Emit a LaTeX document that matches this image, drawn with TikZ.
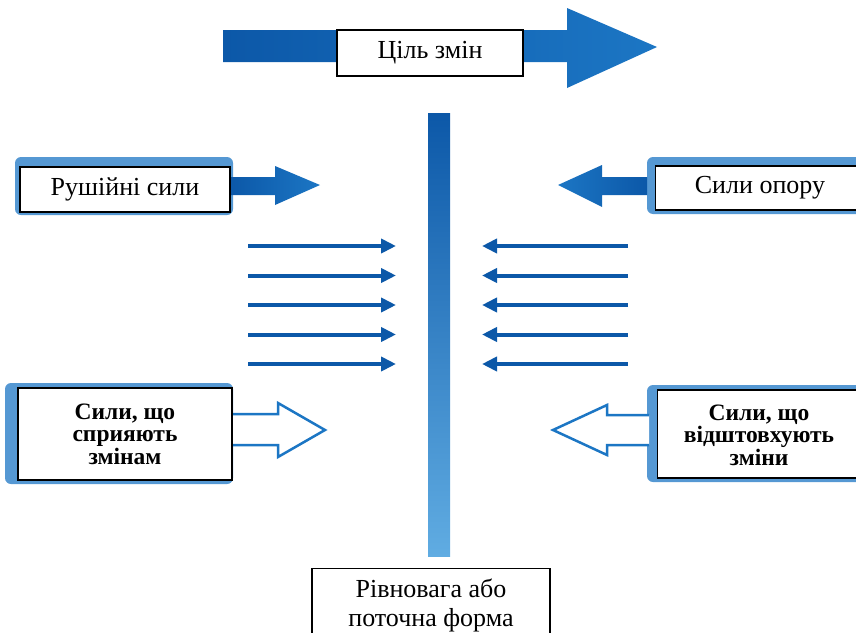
\documentclass[tikz,border=0pt]{standalone}
\usepackage{fontspec}
\setmainfont{Liberation Serif}
\usetikzlibrary{arrows.meta}
\definecolor{forceDark}{RGB}{12,88,168}
\definecolor{forceMid}{RGB}{28,118,196}
\definecolor{forceLight}{RGB}{96,172,226}

\begin{document}
\begin{tikzpicture}[x=1pt,y=-1pt]
    \tikzset{
      LabelBox/.style = {draw=black, fill=white, line width=1.1pt, inner sep=0pt,
                         font=\fontsize{26}{29}\selectfont, align=center},
      BoldText/.style = {font=\fontsize{23.5}{22.5}\selectfont\bfseries, align=center},
      BoldBox/.style  = {LabelBox, BoldText},
      GlowFrame/.style = {fill=forceMid!75, rounded corners=6pt},
      ThinForce/.style = {draw=forceDark, line width=4pt, -{Triangle[length=15pt,width=14pt]}},
      HollowForce/.style = {draw=forceMid, line width=2.5pt, fill=white, line join=miter},
    }
    \useasboundingbox (0,0) rectangle (856,632);
    \clip (0,0) rectangle (856,632);

    % goal arrow
    \shade[left color=forceDark, right color=forceMid]
      (223,30) -- (567,30) -- (567,8) -- (657,47) -- (567,88) -- (567,62) -- (223,62) -- cycle;
    \node[LabelBox, minimum width=186pt, minimum height=46pt] (goal) at (430,53) {Ціль змін};

    % equilibrium bar
    \shade[top color=forceDark, bottom color=forceLight] (428,113) rectangle (450,556);
    \node[LabelBox, minimum width=238pt, minimum height=74pt, anchor=north] (state) at (431,568)
      {Рівновага або\\поточна форма};

    % driving / restraining
    \fill[GlowFrame] (15,157) rectangle (233,215);
    \shade[left color=forceDark, right color=forceMid]
      (230,177) -- (275,177) -- (275,166) -- (320,185) -- (275,205) -- (275,195) -- (230,195) -- cycle;
    \node[LabelBox, minimum width=210pt, minimum height=45pt] (drive) at (125,189.5) {Рушійні сили};

    \fill[GlowFrame] (647,157) rectangle (880,214);
    \shade[left color=forceMid, right color=forceDark]
      (647,177) -- (602,177) -- (602,165) -- (558,185) -- (602,207) -- (602,195) -- (647,195) -- cycle;
    \node[LabelBox, minimum width=220pt, minimum height=44pt, anchor=west] (resistbox) at (655,188) {};
    \node[font=\fontsize{26}{29}\selectfont] (resist) at (760,188) {Сили опору};

    \foreach \i/\y in {1/246,2/275.5,3/305,4/334.5,5/364} {
      \coordinate (pushA\i) at (248,\y);
      \coordinate (pushB\i) at (396,\y);
      \draw[ThinForce] (pushA\i) -- (pushB\i);
      \coordinate (holdA\i) at (628,\y);
      \coordinate (holdB\i) at (482,\y);
      \draw[ThinForce] (holdA\i) -- (holdB\i);
    }

    % forces for / against
    \fill[GlowFrame] (5,383) rectangle (233,484);
    \draw[HollowForce]
      (232,414) -- (278,414) -- (278,403) -- (325,430) -- (278,457) -- (278,445) -- (232,445);
    \node[BoldBox, minimum width=214pt, minimum height=92pt] (favour) at (125,434)
      {Сили, що\\сприяють\\змінам};

    \fill[GlowFrame] (647,385) rectangle (880,482);
    \draw[HollowForce]
      (649,415) -- (607,415) -- (607,405) -- (553,430) -- (607,455) -- (607,445) -- (649,445);
    \node[BoldBox, minimum width=220pt, minimum height=88pt, anchor=west] (opposebox) at (657,434) {};
    \node[BoldText] (oppose) at (759,435) {Сили, що\\відштовхують\\зміни};
\end{tikzpicture}
\end{document}
